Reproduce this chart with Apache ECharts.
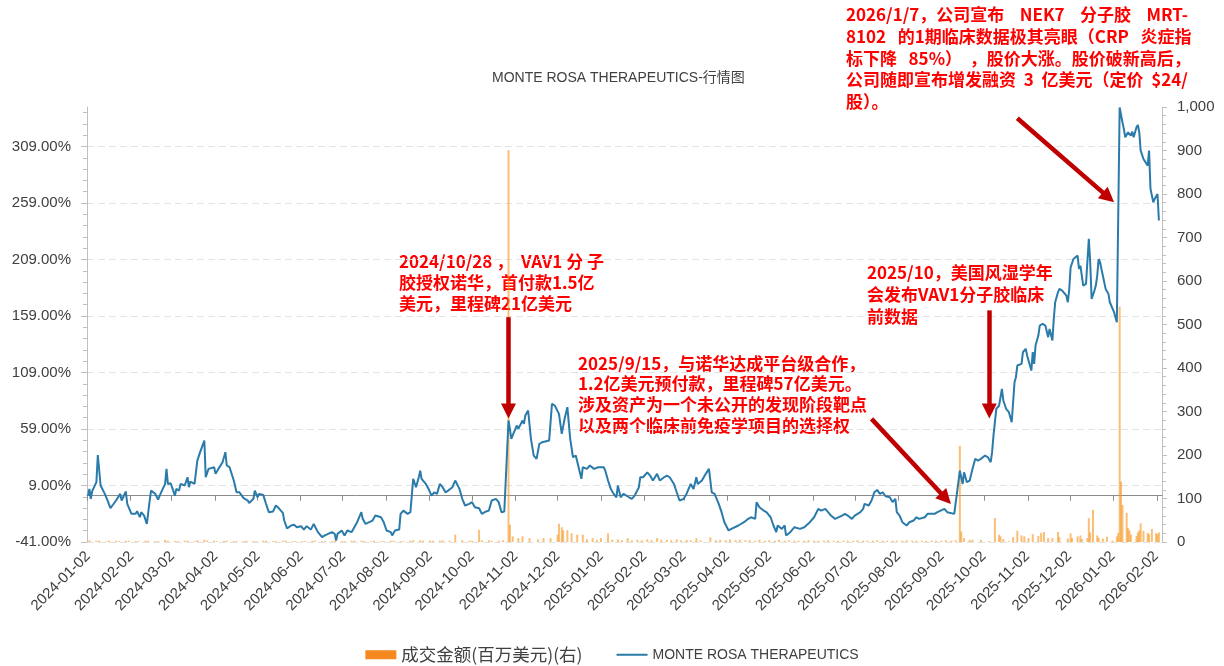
<!DOCTYPE html>
<html>
<head>
<meta charset="utf-8">
<title>MONTE ROSA THERAPEUTICS-行情图</title>
<script src="https://cdn.jsdelivr.net/npm/echarts@6.0.0/dist/echarts.min.js"></script>
<style>
  html, body { margin: 0; padding: 0; background: #fff; }
  #main { width: 1224px; height: 666px; }
</style>
</head>
<body>
<div id="main"></div>
<script>
// 区间涨跌幅(%)，按日期读取的转折点
const price2024 = [
  ['2024-01-02', 0], ['2024-01-03', 5.9], ['2024-01-04', -2.8], ['2024-01-05', 4], ['2024-01-08', 12], ['2024-01-09', 36],
  ['2024-01-11', 9], ['2024-01-14', 1.6], ['2024-01-16', -4.3], ['2024-01-18', -11.1], ['2024-01-22', -4.3], ['2024-01-25', 1.6],
  ['2024-01-26', -4.3], ['2024-01-29', 3.7], ['2024-01-30', -7.3], ['2024-02-02', -16.1], ['2024-02-05', -16.1], ['2024-02-06', -13.7],
  ['2024-02-08', -19], ['2024-02-09', -14.6], ['2024-02-11', -17.6], ['2024-02-13', -25], ['2024-02-15', -4.3], ['2024-02-16', 4.5],
  ['2024-02-19', 1.6], ['2024-02-21', -3.4], ['2024-02-23', 2.5], ['2024-02-26', 10.4], ['2024-02-27', 23.7], ['2024-02-28', 10.4],
  ['2024-03-01', 11], ['2024-03-04', 0], ['2024-03-05', 6], ['2024-03-07', 4.5], ['2024-03-08', 10.4], ['2024-03-11', 9],
  ['2024-03-12', 7.5], ['2024-03-13', 16.3], ['2024-03-14', 7.5], ['2024-03-15', 12.5], ['2024-03-18', 10.4], ['2024-03-20', 31],
  ['2024-03-22', 38.5], ['2024-03-25', 48.8], ['2024-03-26', 16.3], ['2024-03-28', 23.7], ['2024-04-01', 25.2], ['2024-04-02', 19.3],
  ['2024-04-04', 23.7], ['2024-04-07', 29.6], ['2024-04-09', 38.5], ['2024-04-10', 26.7], ['2024-04-12', 25.2], ['2024-04-15', 13.4],
  ['2024-04-17', 3], ['2024-04-19', 3], ['2024-04-22', -2.2], ['2024-04-25', -4.3], ['2024-04-26', -6.4], ['2024-04-29', -2.8],
  ['2024-04-30', 4.5], ['2024-05-02', -1.4], ['2024-05-03', 1.6], ['2024-05-06', 0.7], ['2024-05-08', -7.2], ['2024-05-10', -14.6],
  ['2024-05-13', -14], ['2024-05-15', -8.7], ['2024-05-17', -11], ['2024-05-20', -15.2], ['2024-05-21', -22], ['2024-05-23', -28.9],
  ['2024-05-26', -26.4], ['2024-05-28', -25.8], ['2024-05-30', -27.9], ['2024-06-02', -27], ['2024-06-04', -30], ['2024-06-06', -27],
  ['2024-06-09', -30], ['2024-06-11', -25], ['2024-06-14', -32.3], ['2024-06-17', -36.7], ['2024-06-19', -35.2], ['2024-06-24', -32.3],
  ['2024-06-26', -33.8], ['2024-06-27', -39.7], ['2024-06-28', -33.8], ['2024-07-01', -30.8], ['2024-07-03', -35.2], ['2024-07-05', -30.8],
  ['2024-07-08', -32.3], ['2024-07-10', -27.9], ['2024-07-12', -23.5], ['2024-07-15', -14.6], ['2024-07-16', -20.5], ['2024-07-18', -25],
  ['2024-07-19', -23.5], ['2024-07-23', -22], ['2024-07-25', -17.6], ['2024-07-29', -19.1], ['2024-07-31', -23.5], ['2024-08-02', -30.8],
  ['2024-08-05', -32.3], ['2024-08-06', -35.2], ['2024-08-08', -30.8], ['2024-08-11', -30], ['2024-08-12', -16.1], ['2024-08-14', -13.2],
  ['2024-08-17', -16.1], ['2024-08-19', -14.6], ['2024-08-20', 0], ['2024-08-21', 14.9], ['2024-08-23', 7.5], ['2024-08-25', 16.3],
  ['2024-08-26', 22.2], ['2024-08-27', 14.9], ['2024-08-30', 10.4], ['2024-09-01', 6], ['2024-09-03', 0], ['2024-09-05', 3],
  ['2024-09-07', 1.6], ['2024-09-09', 10.4], ['2024-09-11', 7.5], ['2024-09-13', 3], ['2024-09-15', 4.5], ['2024-09-18', 7.5],
  ['2024-09-20', 13.4], ['2024-09-23', 6], ['2024-09-25', -2.8], ['2024-09-27', -8.7], ['2024-09-30', -7.2], ['2024-10-02', -5.7],
  ['2024-10-04', -10.2], ['2024-10-07', -11.1], ['2024-10-09', -16.1], ['2024-10-12', -14], ['2024-10-14', -13.2], ['2024-10-16', -4.3],
  ['2024-10-19', -2.8], ['2024-10-21', -5.7], ['2024-10-23', -14.6], ['2024-10-25', -14], ['2024-10-28', 66.5], ['2024-10-29', 59.1],
  ['2024-10-30', 50.3], ['2024-11-01', 56.5], ['2024-11-03', 62.1], ['2024-11-04', 59.1], ['2024-11-07', 66.5], ['2024-11-08', 63.6],
  ['2024-11-09', 71], ['2024-11-11', 75.4], ['2024-11-13', 50.3], ['2024-11-15', 35.5], ['2024-11-17', 32.6], ['2024-11-19', 45.8],
  ['2024-11-21', 47.3], ['2024-11-26', 48.8], ['2024-11-28', 81.3], ['2024-11-30', 79.8], ['2024-12-03', 72.4], ['2024-12-05', 54.7],
  ['2024-12-07', 68], ['2024-12-09', 78.3], ['2024-12-11', 50.3], ['2024-12-13', 34], ['2024-12-15', 35.5], ['2024-12-17', 25.2],
  ['2024-12-19', 14.9], ['2024-12-20', 25.2], ['2024-12-23', 23.7], ['2024-12-25', 26.7], ['2024-12-28', 23.7], ['2024-12-31', 25.2]
];
const price2025 = [
  ['2025-01-04', 25.2], ['2025-01-05', 22.2], ['2025-01-07', 13.4], ['2025-01-09', 6], ['2025-01-11', 1.6], ['2025-01-13', -1.4],
  ['2025-01-14', 9], ['2025-01-16', -1.4], ['2025-01-18', 1.6], ['2025-01-22', -1.4], ['2025-01-24', -2.8], ['2025-01-26', 0],
  ['2025-01-29', 7.5], ['2025-01-30', 16.3], ['2025-02-01', 16.3], ['2025-02-04', 20.7], ['2025-02-06', 17.8], ['2025-02-08', 13.4],
  ['2025-02-11', 19.3], ['2025-02-13', 13.4], ['2025-02-16', 16.3], ['2025-02-18', 17.8], ['2025-02-20', 16.3], ['2025-02-23', 10.4],
  ['2025-02-25', 3], ['2025-02-27', -4.3], ['2025-03-02', -2.8], ['2025-03-04', 1.6], ['2025-03-07', 10.4], ['2025-03-09', 6],
  ['2025-03-11', 16.3], ['2025-03-12', 10.4], ['2025-03-15', 13.4], ['2025-03-17', 17.8], ['2025-03-20', 23.7], ['2025-03-22', 3],
  ['2025-03-24', 1.6], ['2025-03-27', -7.2], ['2025-03-29', -14.6], ['2025-03-31', -23.5], ['2025-04-03', -30.8], ['2025-04-05', -29.4],
  ['2025-04-10', -26.4], ['2025-04-14', -23.5], ['2025-04-17', -20.5], ['2025-04-19', -19.1], ['2025-04-22', -20.5], ['2025-04-23', -5.7],
  ['2025-04-25', -10.2], ['2025-04-28', -13.2], ['2025-04-30', -14.6], ['2025-05-03', -19.1], ['2025-05-05', -26.4], ['2025-05-07', -32.3],
  ['2025-05-08', -26.4], ['2025-05-11', -29.4], ['2025-05-13', -26.4], ['2025-05-14', -35.2], ['2025-05-17', -32.3], ['2025-05-20', -27.9],
  ['2025-05-24', -29.4], ['2025-05-27', -27.9], ['2025-05-31', -23.5], ['2025-06-03', -19.1], ['2025-06-06', -11.7], ['2025-06-08', -13.2],
  ['2025-06-11', -11.7], ['2025-06-13', -14.6], ['2025-06-15', -17.6], ['2025-06-18', -20.5], ['2025-06-23', -17.6], ['2025-06-25', -16.1],
  ['2025-06-27', -17.6], ['2025-06-30', -20.5], ['2025-07-02', -17.6], ['2025-07-06', -14.6], ['2025-07-08', -11.7], ['2025-07-09', -7.2],
  ['2025-07-12', -8.7], ['2025-07-14', -4.3], ['2025-07-16', 3], ['2025-07-18', 5.1], ['2025-07-20', 1.6], ['2025-07-22', 3],
  ['2025-07-24', -0.5], ['2025-07-27', -1.4], ['2025-07-29', -5.7], ['2025-07-31', -2.8], ['2025-08-01', -14.6], ['2025-08-03', -17.6],
  ['2025-08-05', -23.5], ['2025-08-08', -26.4], ['2025-08-10', -23.5], ['2025-08-13', -22], ['2025-08-15', -19.1], ['2025-08-17', -20.5],
  ['2025-08-21', -19.1], ['2025-08-23', -16.1], ['2025-08-28', -16.1], ['2025-08-30', -14.6], ['2025-09-04', -11.7], ['2025-09-06', -14.6],
  ['2025-09-11', -16.1], ['2025-09-12', -14.6], ['2025-09-15', 22.2], ['2025-09-17', 10.4], ['2025-09-18', 20.7], ['2025-09-20', 11.9],
  ['2025-09-22', 13.4], ['2025-09-23', 11.9], ['2025-09-24', 23.7], ['2025-09-26', 32.6], ['2025-09-28', 31.1], ['2025-09-30', 32.6],
  ['2025-10-03', 35.5], ['2025-10-05', 34], ['2025-10-07', 29.6], ['2025-10-08', 38.5], ['2025-10-09', 53.3], ['2025-10-11', 76.9],
  ['2025-10-13', 79.8], ['2025-10-15', 94.5], ['2025-10-16', 84.2], ['2025-10-18', 76.9], ['2025-10-20', 73.9], ['2025-10-22', 65],
  ['2025-10-24', 100.4], ['2025-10-25', 104.9], ['2025-10-26', 115.2], ['2025-10-29', 116.7], ['2025-10-30', 127], ['2025-11-01', 130],
  ['2025-11-02', 124], ['2025-11-04', 115.2], ['2025-11-05', 110.7], ['2025-11-06', 127], ['2025-11-07', 116.7], ['2025-11-08', 132.9],
  ['2025-11-10', 141.7], ['2025-11-11', 150.6], ['2025-11-13', 152.1], ['2025-11-15', 150.6], ['2025-11-17', 140.3], ['2025-11-18', 147.6],
  ['2025-11-20', 137.3], ['2025-11-21', 156.5], ['2025-11-22', 171.2], ['2025-11-24', 180], ['2025-11-25', 183], ['2025-11-27', 181.5],
  ['2025-11-30', 177.1], ['2025-12-01', 171.2], ['2025-12-02', 182], ['2025-12-03', 202], ['2025-12-05', 209.5], ['2025-12-08', 212.5],
  ['2025-12-09', 200.7], ['2025-12-10', 203.7], ['2025-12-12', 186], ['2025-12-14', 187.4], ['2025-12-15', 189], ['2025-12-16', 227.3],
  ['2025-12-17', 206.6], ['2025-12-18', 174.1], ['2025-12-20', 181.5], ['2025-12-21', 186], ['2025-12-22', 194.8], ['2025-12-23', 209.5],
  ['2025-12-24', 206.6], ['2025-12-26', 194.8], ['2025-12-28', 183], ['2025-12-30', 178.6], ['2025-12-31', 171.2]
];
const price2026 = [
  ['2026-01-03', 162.4], ['2026-01-05', 153.5], ['2026-01-07', 343.6], ['2026-01-09', 330.5], ['2026-01-10', 324.6], ['2026-01-11', 317.2],
  ['2026-01-13', 321.6], ['2026-01-15', 318.7], ['2026-01-16', 322.2], ['2026-01-17', 317.2], ['2026-01-19', 326], ['2026-01-20', 328.1],
  ['2026-01-21', 321.6], ['2026-01-22', 305.4], ['2026-01-24', 298], ['2026-01-27', 292.1], ['2026-01-28', 305.4], ['2026-01-29', 271.5],
  ['2026-01-31', 259.7], ['2026-02-01', 262.6], ['2026-02-03', 267], ['2026-02-04', 243.5]
];

// 成交金额(百万美元)
const volume2024 = [
  ['2024-01-03', 4], ['2024-01-08', 3], ['2024-01-10', 3], ['2024-01-15', 2], ['2024-01-17', 3], ['2024-01-22', 3], ['2024-01-24', 2],
  ['2024-01-29', 3], ['2024-01-31', 3], ['2024-02-05', 2], ['2024-02-07', 2], ['2024-02-12', 3], ['2024-02-14', 3], ['2024-02-19', 2],
  ['2024-02-21', 2], ['2024-02-26', 5], ['2024-02-28', 3], ['2024-03-04', 2], ['2024-03-06', 2], ['2024-03-11', 3], ['2024-03-13', 3],
  ['2024-03-18', 2], ['2024-03-20', 4], ['2024-03-25', 5], ['2024-03-27', 3], ['2024-04-01', 3], ['2024-04-03', 2], ['2024-04-08', 3],
  ['2024-04-10', 3], ['2024-04-15', 2], ['2024-04-17', 2], ['2024-04-22', 2], ['2024-04-24', 3], ['2024-04-29', 2], ['2024-05-01', 2],
  ['2024-05-06', 3], ['2024-05-08', 3], ['2024-05-13', 2], ['2024-05-15', 2], ['2024-05-20', 3], ['2024-05-22', 3], ['2024-05-27', 2],
  ['2024-05-29', 2], ['2024-06-03', 2], ['2024-06-05', 2], ['2024-06-10', 3], ['2024-06-12', 3], ['2024-06-17', 2], ['2024-06-19', 2],
  ['2024-06-24', 2], ['2024-06-26', 3], ['2024-07-01', 2], ['2024-07-03', 2], ['2024-07-08', 3], ['2024-07-10', 3], ['2024-07-15', 3],
  ['2024-07-17', 2], ['2024-07-22', 2], ['2024-07-24', 3], ['2024-07-29', 2], ['2024-07-31', 2], ['2024-08-05', 3], ['2024-08-07', 3],
  ['2024-08-12', 2], ['2024-08-14', 2], ['2024-08-19', 3], ['2024-08-21', 4], ['2024-08-26', 4], ['2024-08-28', 3], ['2024-09-02', 3],
  ['2024-09-04', 3], ['2024-09-09', 3], ['2024-09-11', 4], ['2024-09-16', 3], ['2024-09-20', 17], ['2024-09-25', 4], ['2024-09-30', 3],
  ['2024-10-02', 3], ['2024-10-07', 28], ['2024-10-09', 4], ['2024-10-14', 4], ['2024-10-16', 3], ['2024-10-21', 3], ['2024-10-24', 4],
  ['2024-10-28', 901], ['2024-10-29', 40], ['2024-10-31', 13], ['2024-11-04', 9], ['2024-11-07', 13], ['2024-11-12', 9], ['2024-11-18', 6],
  ['2024-11-22', 9], ['2024-11-27', 9], ['2024-12-02', 17], ['2024-12-03', 42], ['2024-12-05', 34], ['2024-12-06', 27], ['2024-12-09', 27],
  ['2024-12-12', 20], ['2024-12-16', 17], ['2024-12-20', 17], ['2024-12-23', 6], ['2024-12-27', 9], ['2024-12-30', 5]
];
const volume2025 = [
  ['2025-01-02', 9], ['2025-01-07', 20], ['2025-01-10', 5], ['2025-01-14', 6], ['2025-01-17', 4], ['2025-01-21', 9], ['2025-01-24', 4],
  ['2025-01-28', 5], ['2025-01-31', 4], ['2025-02-04', 6], ['2025-02-07', 4], ['2025-02-11', 9], ['2025-02-14', 5], ['2025-02-18', 5],
  ['2025-02-21', 4], ['2025-02-25', 6], ['2025-02-28', 4], ['2025-03-04', 5], ['2025-03-07', 4], ['2025-03-11', 9], ['2025-03-14', 4],
  ['2025-03-21', 11], ['2025-03-25', 4], ['2025-03-28', 5], ['2025-04-01', 4], ['2025-04-04', 6], ['2025-04-08', 4], ['2025-04-11', 5],
  ['2025-04-15', 4], ['2025-04-18', 4], ['2025-04-22', 3], ['2025-04-25', 5], ['2025-04-29', 3], ['2025-05-02', 4], ['2025-05-06', 3],
  ['2025-05-09', 5], ['2025-05-13', 3], ['2025-05-16', 4], ['2025-05-20', 3], ['2025-05-23', 3], ['2025-05-27', 3], ['2025-05-30', 4],
  ['2025-06-03', 3], ['2025-06-06', 3], ['2025-06-10', 3], ['2025-06-13', 4], ['2025-06-17', 3], ['2025-06-20', 3], ['2025-06-24', 3],
  ['2025-06-27', 3], ['2025-07-01', 3], ['2025-07-04', 4], ['2025-07-08', 3], ['2025-07-11', 3], ['2025-07-15', 3], ['2025-07-18', 4],
  ['2025-07-22', 3], ['2025-07-25', 3], ['2025-07-29', 3], ['2025-08-01', 3], ['2025-08-05', 3], ['2025-08-08', 4], ['2025-08-12', 3],
  ['2025-08-15', 3], ['2025-08-19', 3], ['2025-08-22', 3], ['2025-08-26', 3], ['2025-08-29', 3], ['2025-09-02', 3], ['2025-09-05', 4],
  ['2025-09-09', 3], ['2025-09-12', 4], ['2025-09-15', 221], ['2025-09-16', 24], ['2025-09-18', 9], ['2025-09-22', 5], ['2025-09-24', 5],
  ['2025-09-30', 5], ['2025-10-06', 2], ['2025-10-10', 55], ['2025-10-13', 17], ['2025-10-14', 13], ['2025-10-16', 7], ['2025-10-20', 2],
  ['2025-10-23', 11], ['2025-10-26', 26], ['2025-10-29', 15], ['2025-10-31', 13], ['2025-11-03', 9], ['2025-11-06', 18], ['2025-11-10', 14],
  ['2025-11-12', 21], ['2025-11-14', 23], ['2025-11-17', 9], ['2025-11-20', 9], ['2025-11-24', 23], ['2025-11-25', 11], ['2025-12-01', 8],
  ['2025-12-03', 20], ['2025-12-04', 9], ['2025-12-08', 13], ['2025-12-10', 15], ['2025-12-11', 7], ['2025-12-15', 9], ['2025-12-16', 55],
  ['2025-12-17', 22], ['2025-12-19', 74], ['2025-12-22', 15], ['2025-12-23', 10], ['2025-12-26', 8], ['2025-12-29', 12]
];
const volume2026 = [
  ['2026-01-02', 3], ['2026-01-05', 13], ['2026-01-06', 21], ['2026-01-07', 541], ['2026-01-08', 139], ['2026-01-09', 85],
  ['2026-01-12', 67], ['2026-01-13', 32], ['2026-01-14', 27], ['2026-01-15', 17], ['2026-01-19', 14], ['2026-01-20', 22],
  ['2026-01-21', 27], ['2026-01-22', 43], ['2026-01-24', 26], ['2026-01-27', 21], ['2026-01-28', 18], ['2026-01-30', 30],
  ['2026-02-02', 20], ['2026-02-03', 18], ['2026-02-04', 22]
];

// 坐标轴刻度
const monthTicks = [
  '2024-01-02', '2024-02-02', '2024-03-02', '2024-04-02', '2024-05-02', '2024-06-02', '2024-07-02', '2024-08-02', '2024-09-02',
  '2024-10-02', '2024-11-02', '2024-12-02', '2025-01-02', '2025-02-02', '2025-03-02', '2025-04-02', '2025-05-02', '2025-06-02',
  '2025-07-02', '2025-08-02', '2025-09-02', '2025-10-02', '2025-11-02', '2025-12-02', '2026-01-02', '2026-02-02'
];
const leftTicks = [-41, 9, 59, 109, 159, 209, 259, 309];

// 事件箭头 [起点日期, 起点涨跌幅, 终点日期, 终点涨跌幅]（终点为箭头三角的中心）
const arrows = [
  ['2024-10-28', 158, '2024-10-28', 75],
  ['2025-07-14', 68, '2025-09-05', -2.5],
  ['2025-10-06', 164, '2025-10-06', 75],
  ['2025-10-26', 334, '2025-12-30', 264]
];

const notes = [
  { left: 399, top: 251, lh: 21, text: '2024/10/28 ，  VAV1 分 子\n胶授权诺华，首付款1.5亿\n美元，里程碑21亿美元' },
  { left: 578, top: 353, lh: 20.6, text: '2025/9/15，与诺华达成平台级合作，\n1.2亿美元预付款，里程碑57亿美元。\n涉及资产为一个未公开的发现阶段靶点\n以及两个临床前免疫学项目的选择权' },
  { left: 867, top: 262, lh: 22, text: '2025/10，美国风湿学年\n会发布VAV1分子胶临床\n前数据' },
  { left: 846, top: 4, lh: 21.7, text: '2026/1/7，公司宣布    NEK7    分子胶    MRT-\n8102   的1期临床数据极其亮眼（CRP   炎症指\n标下降   85%）  ，股价大涨。股价破新高后，\n公司随即宣布增发融资  3  亿美元（定价  $24/\n股）。' }
];

const toTime = s => new Date(s + 'T00:00:00').getTime();
const toPairs = list => list.map(p => [toTime(p[0]), p[1]]);

const priceData = toPairs(price2024.concat(price2025, price2026));
const volumeData = toPairs(volume2024.concat(volume2025, volume2026));
const tickTimes = monthTicks.map(toTime);
const xMin = toTime('2024-01-02');
const xMax = toTime('2026-02-05') + 12 * 3600 * 1000;

const AXIS_FONT = '"Liberation Sans", Arial, "Noto Sans CJK SC", sans-serif';
const AXIS_GRAY = '#BFBFBF';

const chart = echarts.init(document.getElementById('main'));

const option = {
  animation: false,
  backgroundColor: '#ffffff',
  title: {
    text: 'MONTE ROSA THERAPEUTICS-行情图',
    left: 487,
    top: 66,
    textStyle: { fontSize: 14, fontWeight: 'normal', color: '#404040', fontFamily: AXIS_FONT }
  },
  legend: {
    left: 'center',
    top: 641,
    itemWidth: 31,
    itemHeight: 9,
    itemGap: 33,
    textStyle: { fontSize: 16, color: '#404040', fontFamily: AXIS_FONT },
    data: [
      {
        name: '成交金额(百万美元)(右)',
        icon: 'rect',
        itemStyle: { color: '#F5891F', opacity: 1 },
        textStyle: { fontSize: 17.5, fontFamily: '"Noto Sans CJK SC", sans-serif' }
      },
      {
        name: 'MONTE ROSA THERAPEUTICS',
        itemStyle: { opacity: 0 },
        textStyle: { fontSize: 14 }
      }
    ]
  },
  grid: { left: 87, right: 62, top: 107, bottom: 124, outerBoundsMode: 'none' },
  xAxis: [
    {
      type: 'time',
      min: xMin,
      max: xMax,
      position: 'bottom',
      axisLine: { show: false, onZero: false },
      axisTick: { show: false },
      splitLine: { show: false },
      axisLabel: {
        customValues: tickTimes,
        formatter: '{yyyy}-{MM}-{dd}',
        rotate: 45,
        margin: 12,
        fontSize: 15,
        color: '#404040',
        fontFamily: AXIS_FONT,
        hideOverlap: false
      }
    },
    {
      type: 'time',
      min: xMin,
      max: xMax,
      position: 'top',
      axisLine: { show: true, onZero: true, onZeroAxisIndex: 0, lineStyle: { color: '#8C8C8C', width: 1 } },
      axisTick: { show: true, inside: true, length: 5, customValues: tickTimes, lineStyle: { color: '#8C8C8C' } },
      axisLabel: { show: false },
      splitLine: { show: false }
    }
  ],
  yAxis: [
    {
      type: 'value',
      position: 'left',
      min: -41,
      max: 344,
      interval: 50,
      axisLine: { show: true, lineStyle: { color: AXIS_GRAY } },
      axisTick: { show: true, length: 6, customValues: leftTicks, lineStyle: { color: AXIS_GRAY } },
      minorTick: { show: true, splitNumber: 5, length: 4, lineStyle: { color: AXIS_GRAY } },
      axisLabel: {
        customValues: leftTicks,
        formatter: v => v.toFixed(2) + '%',
        margin: 16,
        fontSize: 15,
        color: '#404040',
        fontFamily: AXIS_FONT
      },
      splitLine: { show: true, lineStyle: { color: '#E3E3E3', type: [7, 4] } }
    },
    {
      type: 'value',
      position: 'right',
      min: 0,
      max: 1000,
      interval: 100,
      axisLine: { show: true, lineStyle: { color: AXIS_GRAY } },
      axisTick: { show: true, length: 5, lineStyle: { color: AXIS_GRAY } },
      minorTick: { show: true, splitNumber: 5, length: 4, lineStyle: { color: AXIS_GRAY } },
      axisLabel: {
        formatter: v => v.toLocaleString('en-US'),
        margin: 15,
        fontSize: 15,
        color: '#404040',
        fontFamily: AXIS_FONT
      },
      splitLine: { show: false }
    }
  ],
  series: [
    {
      name: '成交金额(百万美元)(右)',
      type: 'bar',
      xAxisIndex: 0,
      yAxisIndex: 1,
      barWidth: 2,
      itemStyle: { color: '#F7941D', opacity: 0.6 },
      data: volumeData
    },
    {
      name: 'MONTE ROSA THERAPEUTICS',
      type: 'line',
      xAxisIndex: 0,
      yAxisIndex: 0,
      symbol: 'none',
      lineStyle: { color: '#2A7AAA', width: 2 },
      itemStyle: { color: '#2A7AAA' },
      data: priceData,
      markLine: {
        silent: true,
        symbol: ['none', 'triangle'],
        symbolSize: [15, 15],
        label: { show: false },
        lineStyle: { color: '#C00000', width: 4.5, type: 'solid' },
        data: arrows.map(a => [
          { coord: [toTime(a[0]), a[1]] },
          { coord: [toTime(a[2]), a[3]] }
        ])
      }
    }
  ],
  graphic: notes.map(n => ({
    type: 'text',
    left: n.left,
    top: n.top,
    silent: true,
    style: {
      text: n.text,
      fill: '#FF0000',
      fontSize: 17,
      fontWeight: 'bold',
      fontFamily: '"Noto Sans CJK SC", sans-serif',
      lineHeight: n.lh
    }
  }))
};

chart.setOption(option);
</script>
</body>
</html>
